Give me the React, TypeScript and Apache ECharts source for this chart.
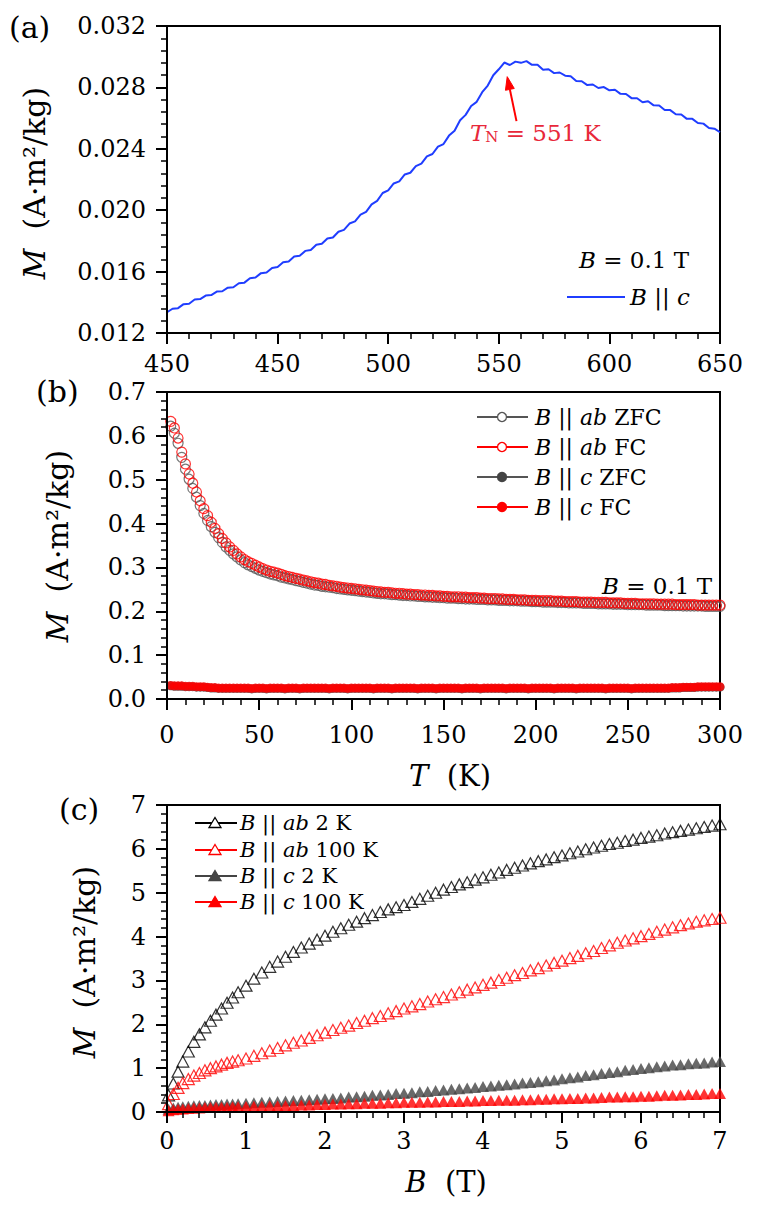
import React, { useEffect, useRef } from 'react';
import * as echarts from 'echarts';

const FONT = '"DejaVu Serif", serif';

// ---------- Panel (a): M vs T, B || c, B = 0.1 T ----------
const aTickLabels = ['450', '450', '500', '550', '600', '650'];
const aT = [
  400, 402.5, 405, 407.5, 410, 412.5, 415, 417.5, 420, 422.5,
  425, 427.5, 430, 432.5, 435, 437.5, 440, 442.5, 445, 447.5,
  450, 452.5, 455, 457.5, 460, 462.5, 465, 467.5, 470, 472.5,
  475, 477.5, 480, 482.5, 485, 487.5, 490, 492.5, 495, 497.5,
  500, 502.5, 505, 507.5, 510, 512.5, 515, 517.5, 520, 522.5,
  525, 527.5, 530, 532.5, 535, 537.5, 540, 542.5, 545, 547.5,
  550, 552.5, 555, 557.5, 560, 562.5, 565, 567.5, 570, 572.5,
  575, 577.5, 580, 582.5, 585, 587.5, 590, 592.5, 595, 597.5,
  600, 602.5, 605, 607.5, 610, 612.5, 615, 617.5, 620, 622.5,
  625, 627.5, 630, 632.5, 635, 637.5, 640, 642.5, 645, 647.5,
  650,
];
const aM = [
  0.01335, 0.01358, 0.01362, 0.01388, 0.01391, 0.01418, 0.01421, 0.01444, 0.01447, 0.0147,
  0.01472, 0.01495, 0.01498, 0.01524, 0.01528, 0.01557, 0.01561, 0.0159, 0.01594, 0.01624,
  0.0163, 0.01661, 0.01666, 0.01698, 0.01703, 0.01735, 0.01741, 0.01775, 0.01781, 0.01815,
  0.01822, 0.0186, 0.01872, 0.01913, 0.01927, 0.01971, 0.01989, 0.02038, 0.02061, 0.02112,
  0.02129, 0.02174, 0.02188, 0.02233, 0.02244, 0.02287, 0.02303, 0.02351, 0.02366, 0.02414,
  0.02431, 0.02486, 0.02518, 0.02586, 0.02621, 0.02679, 0.02706, 0.02769, 0.02812, 0.02879,
  0.02918, 0.02962, 0.02946, 0.02968, 0.0296, 0.02971, 0.02947, 0.02948, 0.02915, 0.02918,
  0.02893, 0.02897, 0.02876, 0.02872, 0.02841, 0.0284, 0.02815, 0.02819, 0.02796, 0.02802,
  0.02781, 0.02785, 0.02758, 0.02757, 0.0273, 0.02729, 0.02703, 0.0271, 0.02683, 0.02682,
  0.02653, 0.02652, 0.02625, 0.02623, 0.02595, 0.02595, 0.02568, 0.02564, 0.02536, 0.02531,
  0.02508,
];
const aArrowFrom = [558, 0.0258];
const aArrowTo = [553.8, 0.0287];

// ---------- Panel (b): M vs T, ZFC / FC ----------
const bT = [
  2, 4, 6, 8, 10, 12, 14, 16, 18, 20,
  22, 24, 26, 28, 30, 32, 34, 36, 38, 40,
  42, 44, 46, 48, 50, 52, 54, 56, 58, 60,
  62, 64, 66, 68, 70, 72, 74, 76, 78, 80,
  82, 84, 86, 88, 90, 92, 94, 96, 98, 100,
  102, 104, 106, 108, 110, 112, 114, 116, 118, 120,
  122, 124, 126, 128, 130, 132, 134, 136, 138, 140,
  142, 144, 146, 148, 150, 152, 154, 156, 158, 160,
  162, 164, 166, 168, 170, 172, 174, 176, 178, 180,
  182, 184, 186, 188, 190, 192, 194, 196, 198, 200,
  202, 204, 206, 208, 210, 212, 214, 216, 218, 220,
  222, 224, 226, 228, 230, 232, 234, 236, 238, 240,
  242, 244, 246, 248, 250, 252, 254, 256, 258, 260,
  262, 264, 266, 268, 270, 272, 274, 276, 278, 280,
  282, 284, 286, 288, 290, 292, 294, 296, 298, 300,
];
const bAbZFC = [
  0.622, 0.606, 0.583, 0.551, 0.524, 0.501, 0.48, 0.46, 0.441, 0.423,
  0.407, 0.393, 0.38, 0.368, 0.357, 0.347, 0.339, 0.331, 0.324, 0.317,
  0.311, 0.306, 0.302, 0.298, 0.294, 0.291, 0.288, 0.285, 0.283, 0.281,
  0.278, 0.276, 0.274, 0.272, 0.27, 0.268, 0.266, 0.264, 0.262, 0.26,
  0.259, 0.257, 0.256, 0.255, 0.254, 0.252, 0.251, 0.25, 0.249, 0.248,
  0.247, 0.246, 0.245, 0.244, 0.243, 0.242, 0.241, 0.24, 0.24, 0.239,
  0.238, 0.238, 0.237, 0.236, 0.236, 0.235, 0.235, 0.234, 0.234, 0.233,
  0.233, 0.232, 0.232, 0.231, 0.231, 0.23, 0.23, 0.23, 0.229, 0.229,
  0.228, 0.228, 0.228, 0.227, 0.227, 0.227, 0.226, 0.226, 0.226, 0.225,
  0.225, 0.225, 0.224, 0.224, 0.224, 0.223, 0.223, 0.223, 0.222, 0.222,
  0.222, 0.221, 0.221, 0.221, 0.221, 0.22, 0.22, 0.22, 0.219, 0.219,
  0.219, 0.219, 0.218, 0.218, 0.218, 0.218, 0.217, 0.217, 0.217, 0.217,
  0.216, 0.216, 0.216, 0.216, 0.215, 0.215, 0.215, 0.215, 0.215, 0.214,
  0.214, 0.214, 0.214, 0.214, 0.213, 0.213, 0.213, 0.213, 0.213, 0.212,
  0.212, 0.212, 0.212, 0.212, 0.212, 0.211, 0.211, 0.211, 0.211, 0.211,
];
const bAbFC = [
  0.633, 0.618, 0.595, 0.563, 0.536, 0.513, 0.492, 0.472, 0.452, 0.434,
  0.418, 0.403, 0.389, 0.377, 0.366, 0.356, 0.347, 0.339, 0.331, 0.324,
  0.318, 0.313, 0.309, 0.305, 0.301, 0.297, 0.294, 0.291, 0.289, 0.287,
  0.284, 0.281, 0.279, 0.277, 0.275, 0.273, 0.271, 0.269, 0.267, 0.265,
  0.264, 0.262, 0.261, 0.259, 0.258, 0.257, 0.255, 0.254, 0.253, 0.252,
  0.251, 0.25, 0.249, 0.248, 0.247, 0.246, 0.245, 0.244, 0.243, 0.243,
  0.242, 0.241, 0.241, 0.24, 0.239, 0.239, 0.238, 0.238, 0.237, 0.237,
  0.236, 0.236, 0.235, 0.235, 0.234, 0.234, 0.233, 0.233, 0.233, 0.232,
  0.232, 0.231, 0.231, 0.231, 0.23, 0.23, 0.229, 0.229, 0.229, 0.228,
  0.228, 0.227, 0.227, 0.227, 0.226, 0.226, 0.226, 0.225, 0.225, 0.225,
  0.224, 0.224, 0.224, 0.224, 0.223, 0.223, 0.223, 0.222, 0.222, 0.222,
  0.222, 0.221, 0.221, 0.221, 0.221, 0.22, 0.22, 0.22, 0.22, 0.219,
  0.219, 0.219, 0.219, 0.218, 0.218, 0.218, 0.218, 0.217, 0.217, 0.217,
  0.217, 0.217, 0.216, 0.216, 0.216, 0.216, 0.216, 0.215, 0.215, 0.215,
  0.215, 0.215, 0.215, 0.214, 0.214, 0.214, 0.214, 0.214, 0.214, 0.214,
];
const bCZFC = [
  0.03, 0.029, 0.029, 0.029, 0.028, 0.028, 0.028, 0.027, 0.027, 0.027,
  0.026, 0.025, 0.025, 0.024, 0.024, 0.024, 0.024, 0.024, 0.024, 0.024,
  0.024, 0.024, 0.023, 0.024, 0.024, 0.024, 0.023, 0.024, 0.024, 0.024,
  0.024, 0.023, 0.024, 0.024, 0.024, 0.023, 0.024, 0.024, 0.024, 0.024,
  0.024, 0.024, 0.024, 0.023, 0.024, 0.024, 0.024, 0.024, 0.023, 0.024,
  0.024, 0.024, 0.024, 0.024, 0.024, 0.023, 0.024, 0.024, 0.024, 0.024,
  0.023, 0.024, 0.024, 0.024, 0.024, 0.024, 0.024, 0.023, 0.024, 0.024,
  0.024, 0.024, 0.023, 0.024, 0.024, 0.024, 0.024, 0.024, 0.024, 0.023,
  0.024, 0.024, 0.024, 0.024, 0.023, 0.024, 0.024, 0.024, 0.024, 0.024,
  0.024, 0.023, 0.024, 0.024, 0.024, 0.024, 0.024, 0.023, 0.024, 0.024,
  0.024, 0.024, 0.024, 0.024, 0.023, 0.024, 0.024, 0.024, 0.024, 0.024,
  0.023, 0.024, 0.024, 0.024, 0.024, 0.024, 0.024, 0.024, 0.023, 0.024,
  0.024, 0.024, 0.024, 0.024, 0.024, 0.023, 0.024, 0.024, 0.024, 0.024,
  0.024, 0.024, 0.024, 0.024, 0.024, 0.024, 0.025, 0.025, 0.025, 0.026,
  0.026, 0.026, 0.026, 0.027, 0.027, 0.027, 0.027, 0.027, 0.027, 0.027,
];
const bCFC = [
  0.031, 0.03, 0.03, 0.03, 0.029, 0.029, 0.029, 0.028, 0.028, 0.028,
  0.027, 0.026, 0.026, 0.025, 0.025, 0.025, 0.025, 0.025, 0.025, 0.025,
  0.025, 0.025, 0.024, 0.025, 0.025, 0.025, 0.024, 0.025, 0.025, 0.025,
  0.025, 0.024, 0.025, 0.025, 0.025, 0.024, 0.025, 0.025, 0.025, 0.025,
  0.025, 0.025, 0.025, 0.024, 0.025, 0.025, 0.025, 0.025, 0.024, 0.025,
  0.025, 0.025, 0.025, 0.025, 0.025, 0.024, 0.025, 0.025, 0.025, 0.025,
  0.024, 0.025, 0.025, 0.025, 0.025, 0.025, 0.025, 0.024, 0.025, 0.025,
  0.025, 0.025, 0.024, 0.025, 0.025, 0.025, 0.025, 0.025, 0.025, 0.024,
  0.025, 0.025, 0.025, 0.025, 0.024, 0.025, 0.025, 0.025, 0.025, 0.025,
  0.025, 0.024, 0.025, 0.025, 0.025, 0.025, 0.025, 0.024, 0.025, 0.025,
  0.025, 0.025, 0.025, 0.025, 0.024, 0.025, 0.025, 0.025, 0.025, 0.025,
  0.024, 0.025, 0.025, 0.025, 0.025, 0.025, 0.025, 0.025, 0.024, 0.025,
  0.025, 0.025, 0.025, 0.025, 0.025, 0.024, 0.025, 0.025, 0.025, 0.025,
  0.025, 0.025, 0.025, 0.025, 0.025, 0.025, 0.026, 0.026, 0.026, 0.027,
  0.027, 0.027, 0.027, 0.028, 0.028, 0.028, 0.028, 0.028, 0.028, 0.028,
];

// ---------- Panel (c): M vs B ----------
const cB = [
  0.02, 0.08, 0.14, 0.2, 0.27, 0.34, 0.41, 0.48, 0.55, 0.62, 0.69, 0.76, 0.83, 0.9,
  1.0, 1.1, 1.2, 1.3, 1.4, 1.5, 1.6, 1.7, 1.8, 1.9,
  2.0, 2.1, 2.2, 2.3, 2.4, 2.5, 2.6, 2.7, 2.8, 2.9,
  3.0, 3.1, 3.2, 3.3, 3.4, 3.5, 3.6, 3.7, 3.8, 3.9,
  4.0, 4.1, 4.2, 4.3, 4.4, 4.5, 4.6, 4.7, 4.8, 4.9,
  5.0, 5.1, 5.2, 5.3, 5.4, 5.5, 5.6, 5.7, 5.8, 5.9,
  6.0, 6.1, 6.2, 6.3, 6.4, 6.5, 6.6, 6.7, 6.8, 6.9,
  7.0,
];
const cAb2K = [
  0.38, 0.65, 0.92, 1.15, 1.38, 1.6, 1.77, 1.93, 2.08, 2.22, 2.36, 2.49, 2.61, 2.73,
  2.88, 3.04, 3.18, 3.31, 3.43, 3.54, 3.65, 3.75, 3.84, 3.93,
  4.02, 4.11, 4.19, 4.27, 4.34, 4.42, 4.49, 4.56, 4.62, 4.67,
  4.72, 4.79, 4.86, 4.93, 5.0, 5.07, 5.13, 5.19, 5.24, 5.3,
  5.35, 5.41, 5.46, 5.52, 5.57, 5.62, 5.67, 5.72, 5.76, 5.81,
  5.85, 5.9, 5.94, 5.99, 6.03, 6.07, 6.11, 6.14, 6.18, 6.21,
  6.25, 6.28, 6.31, 6.35, 6.38, 6.41, 6.44, 6.47, 6.5, 6.53,
  6.56,
];
const cAb100K = [
  0.18, 0.41, 0.55, 0.66, 0.75, 0.83, 0.89, 0.95, 1.0, 1.04, 1.08, 1.12, 1.15, 1.18,
  1.22, 1.28, 1.34, 1.4, 1.46, 1.52, 1.58, 1.63, 1.69, 1.75,
  1.81, 1.87, 1.92, 1.97, 2.03, 2.08, 2.14, 2.19, 2.25, 2.3,
  2.36, 2.41, 2.46, 2.52, 2.57, 2.62, 2.68, 2.73, 2.79, 2.84,
  2.9, 2.95, 3.01, 3.06, 3.12, 3.17, 3.23, 3.28, 3.34, 3.4,
  3.45, 3.51, 3.56, 3.62, 3.67, 3.74, 3.8, 3.86, 3.91, 3.96,
  4.01, 4.06, 4.11, 4.16, 4.21, 4.26, 4.3, 4.34, 4.37, 4.4,
  4.43,
];
const cC2K = [
  0.06, 0.09, 0.11, 0.12, 0.13, 0.14, 0.15, 0.15, 0.16, 0.17, 0.17, 0.18, 0.18, 0.19,
  0.2, 0.21, 0.22, 0.23, 0.24, 0.25, 0.26, 0.27, 0.28, 0.29,
  0.3, 0.31, 0.32, 0.34, 0.35, 0.36, 0.38, 0.39, 0.4, 0.42,
  0.43, 0.44, 0.46, 0.47, 0.49, 0.5, 0.52, 0.53, 0.55, 0.56,
  0.58, 0.59, 0.61, 0.62, 0.64, 0.66, 0.67, 0.69, 0.71, 0.73,
  0.76, 0.78, 0.8, 0.83, 0.85, 0.88, 0.9, 0.92, 0.95, 0.97,
  0.99, 1.01, 1.03, 1.05, 1.07, 1.08, 1.1, 1.11, 1.12, 1.14,
  1.15,
];
const cC100K = [
  0.03, 0.05, 0.06, 0.07, 0.08, 0.09, 0.09, 0.1, 0.1, 0.11, 0.11, 0.11, 0.12, 0.12,
  0.125, 0.13, 0.13, 0.14, 0.14, 0.15, 0.15, 0.16, 0.16, 0.17,
  0.17, 0.18, 0.18, 0.19, 0.19, 0.2, 0.2, 0.2, 0.21, 0.21,
  0.22, 0.22, 0.22, 0.23, 0.23, 0.24, 0.24, 0.24, 0.25, 0.25,
  0.26, 0.26, 0.27, 0.27, 0.27, 0.28, 0.28, 0.29, 0.29, 0.3,
  0.3, 0.31, 0.31, 0.32, 0.32, 0.33, 0.34, 0.34, 0.35, 0.35,
  0.36, 0.36, 0.37, 0.38, 0.38, 0.39, 0.4, 0.4, 0.41, 0.42,
  0.42,
];

// axis ranges: [min, max, major interval] per panel
const xRanges = [[400, 650, 50], [0, 300, 50], [0, 7, 1]];
const yRanges = [[0.012, 0.032, 0.004], [0, 0.7, 0.1], [0, 7, 1]];
const yDecimals = [3, 1, 0];

const RED = '#ff0000';
const GRAY = '#444444';
const BLUE = '#1f3dff';

const zip = (xs: number[], ys: number[]) => xs.map((x, i) => [x, ys[i]]);

const TICK = 24;

function xAxis(g: number, margin: number, formatter?: (v: number) => string) {
  const [min, max, interval] = xRanges[g];
  const axisLabel: any = { show: true, margin, fontFamily: FONT, fontSize: TICK, color: '#000' };
  if (formatter) axisLabel.formatter = formatter;
  return {
    type: 'value', gridIndex: g, min, max, interval, z: 200,
    axisLine: { show: true, onZero: false, lineStyle: { color: '#000', width: 2 } },
    axisTick: { show: true, length: 11, lineStyle: { color: '#000', width: 2 } },
    minorTick: { show: true, splitNumber: 5, length: 6, lineStyle: { color: '#000', width: 1.5 } },
    splitLine: { show: false },
    axisLabel,
  };
}

function yAxis(g: number) {
  const [min, max, interval] = yRanges[g];
  return {
    type: 'value', gridIndex: g, min, max, interval, z: 200,
    axisLine: { show: true, onZero: false, lineStyle: { color: '#000', width: 2 } },
    axisTick: { show: true, length: 11, lineStyle: { color: '#000', width: 2 } },
    minorTick: { show: true, splitNumber: 5, length: 6, lineStyle: { color: '#000', width: 1.5 } },
    splitLine: { show: false },
    axisLabel: {
      show: true, margin: 21, fontFamily: FONT, fontSize: TICK, color: '#000',
      formatter: (v: number) => v.toFixed(yDecimals[g]),
    },
  };
}

function txt(x: number, y: number, text: string, size: number, align = 'left', fill = '#000', extraRich: any = {}, rotation = 0) {
  return {
    type: 'text', x, y, z: 100, rotation,
    style: {
      text, fontFamily: FONT, fontSize: size, fill, align, verticalAlign: 'middle',
      rich: {
        i: { fontStyle: 'italic', fontFamily: FONT, fontSize: size, fill },
        ...extraRich,
      },
    },
  };
}

function legendRow(x1: number, x2: number, y: number, color: string, marker: any, label: string, size: number, tx: number) {
  return [
    { type: 'line', z: 100, shape: { x1, y1: y, x2, y2: y }, style: { stroke: color, lineWidth: 2 } },
    marker,
    txt(tx, y, label, size),
  ];
}

function circleMarker(cx: number, cy: number, stroke: string, fill: string) {
  return { type: 'circle', z: 101, shape: { cx, cy, r: 4.5 }, style: { fill, stroke, lineWidth: 1.3 } };
}

function triMarker(cx: number, cy: number, stroke: string, fill: string) {
  return {
    type: 'polygon', z: 101,
    shape: { points: [[cx, cy - 5.5], [cx + 6, cy + 4.5], [cx - 6, cy + 4.5]] },
    style: { fill, stroke, lineWidth: 1.3 },
  };
}

export default function App() {
  const ref = useRef<HTMLDivElement>(null);

  useEffect(() => {
    if (!ref.current) return;
    const chart = echarts.init(ref.current, null, { renderer: 'svg' });

    const hollow = (color: string) => ({ color: 'rgba(0,0,0,0)', borderColor: color, borderWidth: 1.2 });
    const gridBase = { show: true, borderColor: '#000', borderWidth: 2 };

    chart.setOption({
      animation: false,
      backgroundColor: '#fff',
      grid: [
        { ...gridBase, left: 167, top: 26, width: 553, height: 307 },
        { ...gridBase, left: 167, top: 392, width: 553, height: 307 },
        { ...gridBase, left: 167, top: 805, width: 553, height: 307 },
      ],
      xAxis: [
        xAxis(0, 19, (v: number) => aTickLabels[Math.round((v - 400) / 50)] || String(v)),
        xAxis(1, 24),
        xAxis(2, 17),
      ],
      yAxis: [yAxis(0), yAxis(1), yAxis(2)],
      series: [
        {
          type: 'line', xAxisIndex: 0, yAxisIndex: 0,
          data: zip(aT, aM), showSymbol: false,
          lineStyle: { color: BLUE, width: 2 }, itemStyle: { color: BLUE },
        },
        {
          type: 'scatter', xAxisIndex: 1, yAxisIndex: 1,
          data: zip(bT, bAbZFC), symbol: 'circle', symbolSize: 10, itemStyle: hollow('#555'),
        },
        {
          type: 'scatter', xAxisIndex: 1, yAxisIndex: 1,
          data: zip(bT, bAbFC), symbol: 'circle', symbolSize: 10, itemStyle: hollow(RED),
        },
        {
          type: 'scatter', xAxisIndex: 1, yAxisIndex: 1,
          data: zip(bT, bCZFC), symbol: 'circle', symbolSize: 9, itemStyle: { color: GRAY },
        },
        {
          type: 'scatter', xAxisIndex: 1, yAxisIndex: 1,
          data: zip(bT, bCFC), symbol: 'circle', symbolSize: 9, itemStyle: { color: RED },
        },
        {
          type: 'scatter', xAxisIndex: 2, yAxisIndex: 2,
          data: zip(cB, cAb2K), symbol: 'triangle', symbolSize: [12, 11], itemStyle: hollow('#000'),
        },
        {
          type: 'scatter', xAxisIndex: 2, yAxisIndex: 2,
          data: zip(cB, cAb100K), symbol: 'triangle', symbolSize: [12, 11], itemStyle: hollow(RED),
        },
        {
          type: 'scatter', xAxisIndex: 2, yAxisIndex: 2,
          data: zip(cB, cC2K), symbol: 'triangle', symbolSize: [12, 11], itemStyle: { color: GRAY },
        },
        {
          type: 'scatter', xAxisIndex: 2, yAxisIndex: 2,
          data: zip(cB, cC100K), symbol: 'triangle', symbolSize: [12, 11], itemStyle: { color: RED },
        },
      ],
    });

    // arrow pointing at T_N, placed through the axis scales of panel (a)
    const arrow: any[] = [];
    try {
      const p0 = chart.convertToPixel({ xAxisIndex: 0, yAxisIndex: 0 }, aArrowFrom);
      const p1 = chart.convertToPixel({ xAxisIndex: 0, yAxisIndex: 0 }, aArrowTo);
      if (p0 && p1) {
        const dx = p1[0] - p0[0];
        const dy = p1[1] - p0[1];
        const L = Math.sqrt(dx * dx + dy * dy) || 1;
        const ux = dx / L;
        const uy = dy / L;
        const hl = 13;
        const hw = 4.5;
        const bx = p1[0] - ux * hl;
        const by = p1[1] - uy * hl;
        arrow.push({ type: 'line', z: 95, shape: { x1: p0[0], y1: p0[1], x2: bx, y2: by }, style: { stroke: RED, lineWidth: 2 } });
        arrow.push({
          type: 'polygon', z: 95,
          shape: { points: [[p1[0], p1[1]], [bx - uy * hw, by + ux * hw], [bx + uy * hw, by - ux * hw]] },
          style: { fill: RED, stroke: RED, lineWidth: 1 },
        });
      }
    } catch (e) {
      /* no arrow */
    }

    const yName = '{i|M}  (A·m²/kg)';
    chart.setOption({
      graphic: [
        // panel labels
        txt(9, 27, '(a)', 30),
        txt(36, 391, '(b)', 30),
        txt(59, 809, '(c)', 30),
        // axis titles
        txt(34, 183, yName, 30, 'center', '#000', {}, Math.PI / 2),
        txt(57, 546, yName, 30, 'center', '#000', {}, Math.PI / 2),
        txt(84, 962, yName, 30, 'center', '#000', {}, Math.PI / 2),
        txt(450, 776, '{i|T}  (K)', 29, 'center'),
        txt(446, 1182, '{i|B}  (T)', 29, 'center'),
        // panel (a) annotations
        ...arrow,
        txt(470, 133, '{it|T}{sub|N} = 551 K', 23, 'left', '#e8283a', {
          it: { fontStyle: 'italic', fontFamily: FONT, fontSize: 23, fill: '#e8283a' },
          sub: { fontFamily: FONT, fontSize: 15, fill: '#e8283a', verticalAlign: 'bottom' },
        }),
        txt(689, 260, '{i|B} = 0.1 T', 23, 'right'),
        { type: 'line', z: 100, shape: { x1: 567, y1: 297, x2: 625, y2: 297 }, style: { stroke: BLUE, lineWidth: 2 } },
        txt(630, 297, '{i|B} || {i|c}', 23),
        // panel (b) legend
        ...legendRow(477, 528, 417, '#555', circleMarker(502, 417, '#555', '#fff'), '{i|B} || {i|ab} ZFC', 22, 535),
        ...legendRow(477, 528, 447, RED, circleMarker(502, 447, RED, '#fff'), '{i|B} || {i|ab} FC', 22, 535),
        ...legendRow(477, 528, 477, '#555', circleMarker(502, 477, GRAY, GRAY), '{i|B} || {i|c} ZFC', 22, 535),
        ...legendRow(477, 528, 507, RED, circleMarker(502, 507, RED, RED), '{i|B} || {i|c} FC', 22, 535),
        txt(712, 586, '{i|B} = 0.1 T', 23, 'right'),
        // panel (c) legend
        ...legendRow(195, 237, 823, '#000', triMarker(215, 823, '#000', '#fff'), '{i|B} || {i|ab} 2 K', 21, 240),
        ...legendRow(195, 237, 850, RED, triMarker(215, 850, RED, '#fff'), '{i|B} || {i|ab} 100 K', 21, 240),
        ...legendRow(195, 237, 876, GRAY, triMarker(215, 876, GRAY, GRAY), '{i|B} || {i|c} 2 K', 21, 240),
        ...legendRow(195, 237, 902, RED, triMarker(215, 902, RED, RED), '{i|B} || {i|c} 100 K', 21, 240),
      ],
    });
    return () => chart.dispose();
  }, []);

  return (
    <div
      ref={ref}
      style={{ position: 'fixed', left: 0, top: 0, width: 759, height: 1205, background: '#fff' }}
    />
  );
}
